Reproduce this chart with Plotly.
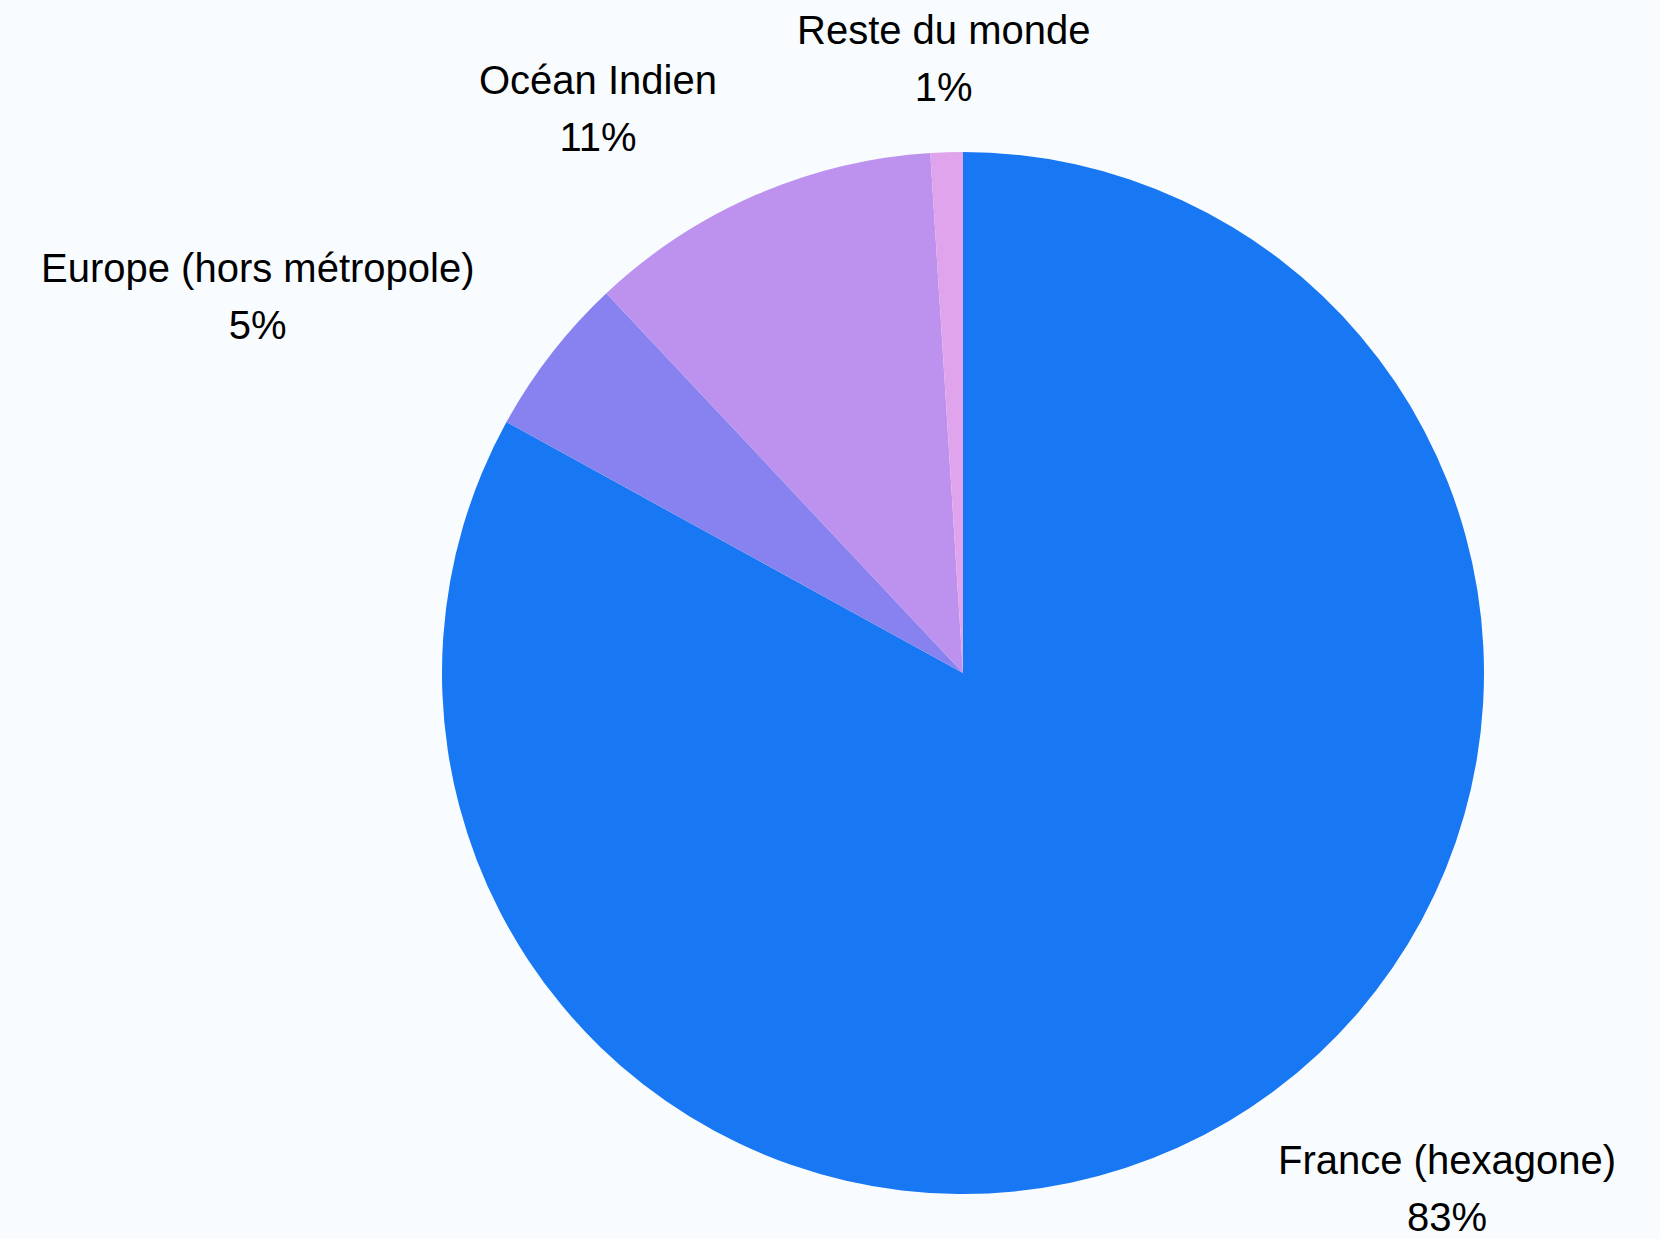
import math
import plotly.graph_objects as go

labels = ["France (hexagone)", "Europe (hors métropole)", "Océan Indien", "Reste du monde"]
values = [83, 5, 11, 1]
colors = ["#1877F2", "#8782F0", "#BD92EE", "#E0A4EC"]

W, H = 1660, 1239
ML, MR, MT, MB = 442, 176, 152, 45
BG = "#F8FCFF"
FONT = "Liberation Sans, Arial, sans-serif"

fig = go.Figure(go.Pie(
    labels=labels,
    values=values,
    sort=False,
    direction="clockwise",
    rotation=0,
    textinfo="none",
    marker=dict(colors=colors, line=dict(width=0)),
    showlegend=False,
    hoverinfo="label+percent",
))

# Outside labels placed along each slice's mid-angle (derived from the values)
pw, ph = W - ML - MR, H - MT - MB
R = min(pw, ph) / 2
cx, cy = ML + pw / 2, MT + ph / 2
total = sum(values)
cum = 0
annotations = []
for lab, v in zip(labels, values):
    mid = (cum + v / 2) / total * 2 * math.pi
    cum += v
    dx, dy = math.sin(mid), -math.cos(mid)
    rl = 1.18 * R
    px, py = cx + rl * dx, cy + rl * dy
    # keep the label inside the canvas
    shift = max(0.0, py + 57 - (H + 6))
    py -= shift
    if abs(dx) < 0.1:
        xa = "center"
    elif dx > 0:
        xa = "left"
    else:
        xa = "right"
    pct = f"{round(v / total * 100)}%"
    annotations.append(dict(
        text=f"<span style='font-size:40px'>{lab}</span><br><span style='font-size:40px'>{pct}</span>",
        x=(px - ML) / pw, y=1 - (py - MT) / ph,
        xref="paper", yref="paper",
        xanchor=xa, yanchor="middle", align="center",
        showarrow=False,
        font=dict(family=FONT, size=44, color="#000000"),
    ))

fig.update_layout(
    width=W,
    height=H,
    paper_bgcolor=BG,
    plot_bgcolor=BG,
    margin=dict(l=ML, r=MR, t=MT, b=MB),
    annotations=annotations,
)

fig.write_html(
    "out.html",
    config={"displayModeBar": False},
    post_script="document.body.style.margin='0';document.body.style.background='%s';" % BG,
)
